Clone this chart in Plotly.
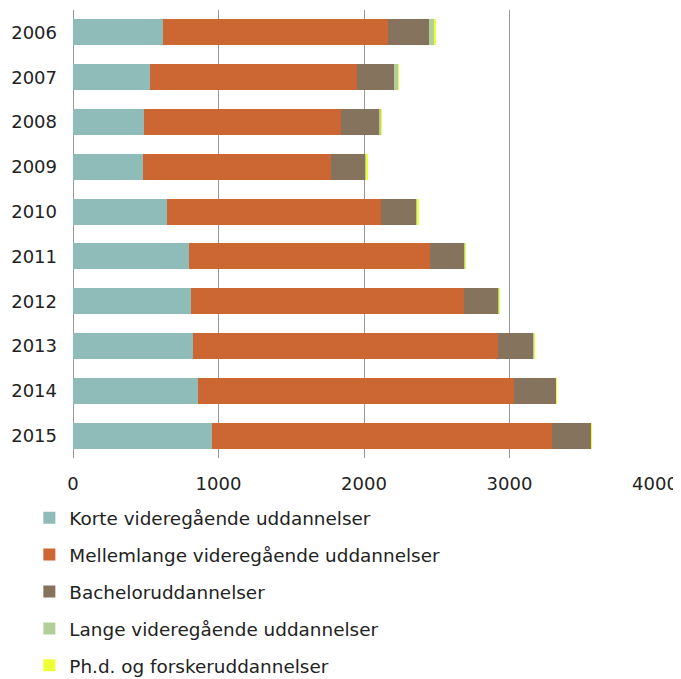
import plotly.graph_objects as go

years = ["2006", "2007", "2008", "2009", "2010", "2011", "2012", "2013", "2014", "2015"]
korte = [616, 529, 489, 484, 645, 797, 813, 826, 861, 958]
mellemlange = [1550, 1424, 1353, 1290, 1473, 1658, 1876, 2098, 2173, 2334]
bachelor = [279, 252, 261, 234, 245, 237, 237, 242, 287, 269]
lange = [42, 29, 15, 10, 8, 3, 3, 4, 3, 2]
phd = [5, 3, 3, 3, 2, 1, 1, 1, 1, 1]

series = [
    ("Korte videregående uddannelser", korte, "#8FBCB9"),
    ("Mellemlange videregående uddannelser", mellemlange, "#CC6633"),
    ("Bacheloruddannelser", bachelor, "#85735E"),
    ("Lange videregående uddannelser", lange, "#B3CF99"),
    ("Ph.d. og forskeruddannelser", phd, "#EEFF33"),
]

fig = go.Figure()
for i, (name, vals, color) in enumerate(series):
    fig.add_trace(go.Bar(
        y=years, x=vals, name=name, orientation="h",
        marker=dict(color=color, line=dict(width=0)),
        legendgroup=f"g{i}",
    ))

fig.update_layout(
    barmode="stack",
    bargap=0.42,
    width=673, height=671,
    margin=dict(l=65, r=26, t=2, b=221, autoexpand=False),
    paper_bgcolor="white", plot_bgcolor="white",
    font=dict(family="DejaVu Sans, Verdana, sans-serif", size=18, color="#222222"),
    xaxis=dict(range=[0, 4000], tickvals=[0, 1000, 2000, 3000, 4000],
               showgrid=True, gridcolor="#999999", gridwidth=1.3,
               zeroline=True, zerolinecolor="#999999", zerolinewidth=1.3,
               showline=False, ticks="", tickfont=dict(size=18),
               ticklabelstandoff=13, automargin=False),
    yaxis=dict(autorange="reversed", showgrid=False, showline=False, ticks="",
               tickfont=dict(size=18), ticklabelstandoff=15, automargin=False),
    showlegend=True,
    legend=dict(orientation="v", traceorder="grouped", x=-0.075, xanchor="left",
                y=-0.092, yanchor="top", tracegroupgap=10,
                font=dict(size=18.4), bgcolor="rgba(0,0,0,0)"),
)

fig.write_html("out.html")
